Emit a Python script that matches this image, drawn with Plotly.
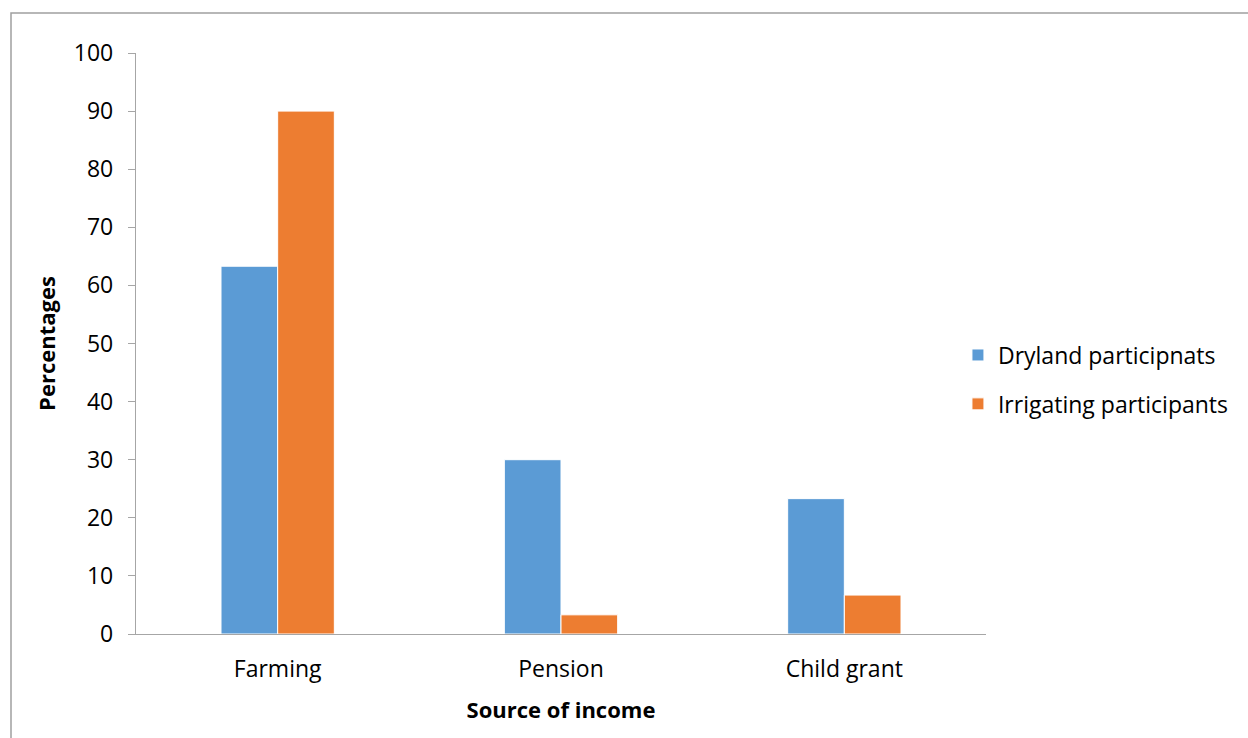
import plotly.graph_objects as go

categories = ["Farming", "Pension", "Child grant"]
dryland = [63.3, 30.0, 23.3]
irrigating = [90.0, 3.3, 6.7]
series_names = ["Dryland participnats", "Irrigating participants"]
y_ticks = [0, 10, 20, 30, 40, 50, 60, 70, 80, 90, 100]

FONT = "Open Sans, Noto Sans, sans-serif"

fig = go.Figure()
fig.add_trace(go.Bar(x=categories, y=dryland, name=series_names[0], legendgroup="a",
                     marker=dict(color="#5B9BD5", line=dict(color="white", width=1))))
fig.add_trace(go.Bar(x=categories, y=irrigating, name=series_names[1], legendgroup="b",
                     marker=dict(color="#ED7D31", line=dict(color="white", width=1))))

L, R, T, B = 136, 986, 53, 634
W, H = 1248, 738

fig.update_layout(
    width=W, height=H,
    margin=dict(l=L, r=W - R, t=T, b=H - B, pad=0),
    paper_bgcolor="white", plot_bgcolor="white",
    barmode="group", bargap=0.6, bargroupgap=0,
    font=dict(family=FONT, size=23, color="black"),
    showlegend=True,
    legend=dict(x=0.967, y=0.438, xanchor="left", yanchor="middle",
                font=dict(family=FONT, size=23, color="black"),
                tracegroupgap=16, itemwidth=30),
    xaxis=dict(showline=True, linecolor="#A6A6A6", linewidth=1.3,
               ticks="", showgrid=False, tickfont=dict(size=23),
               ticklabelstandoff=14,
               title=dict(text="<b>Source of income</b>", font=dict(size=22), standoff=19)),
    yaxis=dict(range=[0, 100], tickvals=y_ticks, showline=True, linecolor="#A6A6A6",
               linewidth=1.3, ticks="outside", ticklen=7, tickcolor="#A6A6A6",
               tickwidth=1.3, showgrid=False, zeroline=False, tickfont=dict(size=23),
               ticklabelstandoff=10,
               title=dict(text="<b>Percentages</b>", font=dict(size=22), standoff=12)),
)

# outer chart border
fig.add_shape(type="rect", xref="paper", yref="paper",
              x0=(11 - L) / (R - L), x1=(1300 - L) / (R - L),
              y0=(B - 800) / (B - T), y1=(B - 13) / (B - T),
              line=dict(color="#A0A0A0", width=1.5), fillcolor="rgba(0,0,0,0)", layer="below")

fig.write_html("out.html", config={"displayModeBar": False},
               post_script="document.body.style.margin='0';")
